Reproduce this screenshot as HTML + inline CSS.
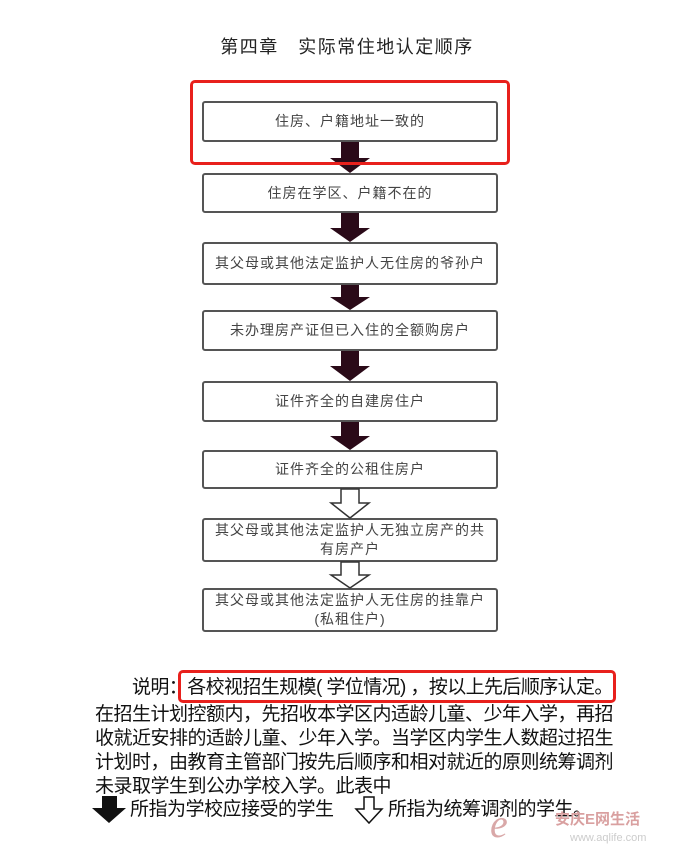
<!DOCTYPE html>
<html><head><meta charset="utf-8"><style>
body{margin:0;width:686px;height:854px;background:#fff;position:relative;overflow:hidden;font-family:"Liberation Sans","Noto Sans CJK SC",sans-serif}
.t{position:absolute;left:0;width:686px;top:33px;text-align:center;font-size:18px;color:#222;letter-spacing:1.5px;padding-left:4px}
.b{position:absolute;left:202px;width:296px;border:2px solid #555;border-radius:3px;box-sizing:border-box;display:flex;align-items:center;justify-content:center;text-align:center;font-size:14px;color:#444;line-height:19px;letter-spacing:1px}
.r{position:absolute;border:3px solid #e8201c;border-radius:5px;box-sizing:border-box}
.p{position:absolute;left:95px;font-size:19px;color:#111;line-height:24px;white-space:nowrap;letter-spacing:-0.5px}
</style></head><body>
<div class="t">第四章　实际常住地认定顺序</div>
<div class="b" style="top:101px;height:41px">住房、户籍地址一致的</div>
<div class="b" style="top:173px;height:40px">住房在学区、户籍不在的</div>
<div class="b" style="top:242px;height:43px">其父母或其他法定监护人无住房的爷孙户</div>
<div class="b" style="top:310px;height:41px">未办理房产证但已入住的全额购房户</div>
<div class="b" style="top:381px;height:41px">证件齐全的自建房住户</div>
<div class="b" style="top:450px;height:39px">证件齐全的公租住房户</div>
<div class="b" style="top:518px;height:44px">其父母或其他法定监护人无独立房产的共<br>有房产户</div>
<div class="b" style="top:588px;height:44px">其父母或其他法定监护人无住房的挂靠户<br>(私租住户)</div>
<svg width="686" height="854" style="position:absolute;left:0;top:0">
<g fill="#2a0a18">
<polygon points="341,142 359,142 359,158 370,158 350,173 330,158 341,158"/>
<polygon points="341,213 359,213 359,228 370,228 350,242 330,228 341,228"/>
<polygon points="341,285 359,285 359,297 370,297 350,310 330,297 341,297"/>
<polygon points="341,351 359,351 359,366 370,366 350,381 330,366 341,366"/>
<polygon points="341,422 359,422 359,436 370,436 350,450 330,436 341,436"/>
</g>
<g fill="#fff" stroke="#333" stroke-width="1.5">
<polygon points="341,489 359,489 359,503 369,503 350,518 331,503 341,503"/>
<polygon points="341,562 359,562 359,575 369,575 350,588 331,575 341,575"/>
</g>
<polygon points="102,796 117,796 117,808 126,808 109,823 92,808 102,808" fill="#111"/>
<polygon points="364,797 374,797 374,809 382,809 369,823 356,809 364,809" fill="#fff" stroke="#111" stroke-width="1.5"/>
</svg>
<div class="r" style="left:190px;top:80px;width:320px;height:85px"></div>
<div class="r" style="left:178px;top:670px;width:438px;height:33px"></div>
<div class="p" style="top:676px;left:132px;letter-spacing:-0.6px">说明：各校视招生规模( 学位情况) ，按以上先后顺序认定。</div>
<div class="p" style="top:703px">在招生计划控额内，先招收本学区内适龄儿童、少年入学，再招</div>
<div class="p" style="top:727px">收就近安排的适龄儿童、少年入学。当学区内学生人数超过招生</div>
<div class="p" style="top:751px">计划时，由教育主管部门按先后顺序和相对就近的原则统筹调剂</div>
<div class="p" style="top:775px">未录取学生到公办学校入学。此表中</div>
<div class="p" style="top:798px;left:130px">所指为学校应接受的学生</div>
<div class="p" style="top:798px;left:388px">所指为统筹调剂的学生。</div>
<div style="position:absolute;left:490px;top:800px;font-size:40px;color:#d9a8a8;font-style:italic;font-family:'Liberation Serif',serif">e</div>
<div style="position:absolute;left:555px;top:808px;font-size:15px;color:#d9a0a0;font-weight:bold">安庆E网生活</div>
<div style="position:absolute;left:570px;top:832px;font-size:11px;color:#ccc">www.aqlife.com</div>
</body></html>
